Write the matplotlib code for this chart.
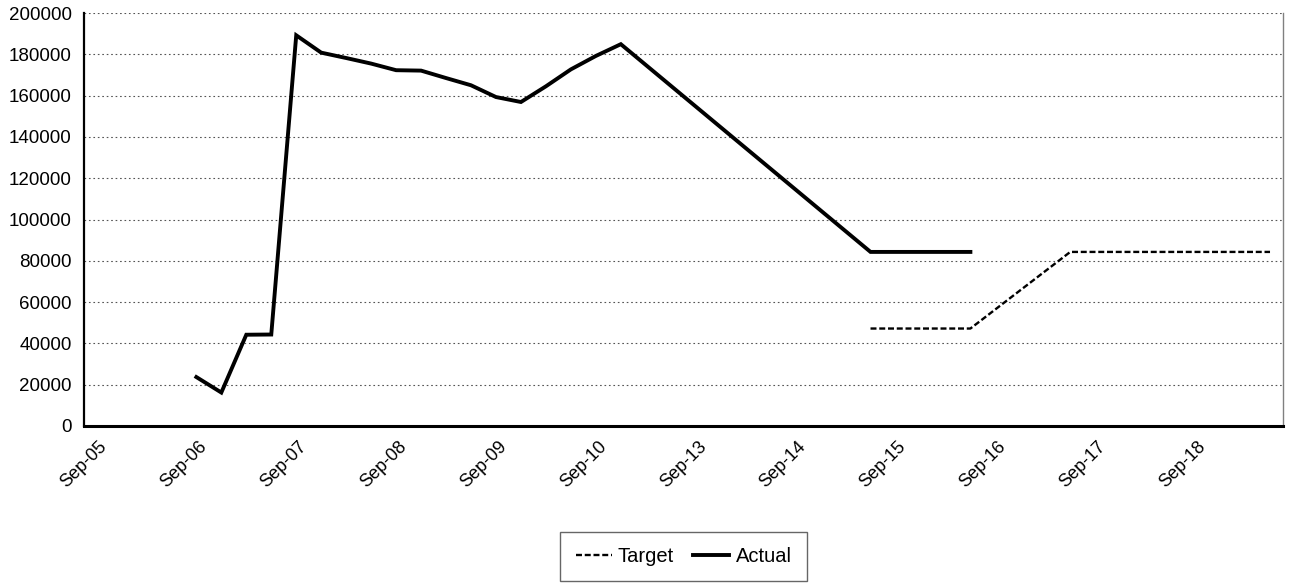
import matplotlib
matplotlib.use("Agg")
import matplotlib.pyplot as plt
import matplotlib.transforms as mtransforms

matplotlib.rcParams['font.family'] = ['Liberation Sans', 'DejaVu Sans']
matplotlib.rcParams['lines.scale_dashes'] = False

# quarterly category slots, one label every 4th slot
n_slots = 48
tick_pos = [0, 4, 8, 12, 16, 20, 24, 28, 32, 36, 40, 44]
tick_labels = ["Sep-05", "Sep-06", "Sep-07", "Sep-08", "Sep-09", "Sep-10",
               "Sep-13", "Sep-14", "Sep-15", "Sep-16", "Sep-17", "Sep-18"]

actual_idx = [4, 5, 6, 7, 8, 9, 10, 11, 12, 13, 14, 15, 16, 17, 18, 19, 20, 21,
              31, 32, 33, 34, 35]
actual_val = [23700, 16200, 44200, 44300, 189200, 180800, 178200, 175500,
              172300, 172100, 168500, 165000, 159300, 156900, 164500, 172700,
              179200, 184900, 84300, 84300, 84300, 84300, 84300]

target_idx = [31, 32, 33, 34, 35, 39, 40, 41, 42, 43, 44, 45, 46, 47]
target_val = [47200, 47200, 47200, 47200, 47200, 84300, 84300, 84300, 84300,
              84300, 84300, 84300, 84300, 84300]

fig = plt.figure(figsize=(12.91, 5.83), dpi=100)
ax = fig.add_axes([84 / 1291, 1 - 426 / 583, (1282.5 - 84) / 1291, (426 - 13) / 583])

ax.plot(target_idx, target_val, color='black', lw=1.7, dashes=(4.3, 2.0),
        label='Target')
ax.plot(actual_idx, actual_val, color='black', lw=2.8, solid_joinstyle='miter',
        label='Actual')

ax.set_xlim(-0.5, n_slots - 0.5)
ax.set_ylim(0, 200000)
ax.set_yticks(range(0, 200001, 20000))
ax.set_yticklabels([str(v) for v in range(0, 200001, 20000)], fontsize=13.5)

# x labels drawn by hand so they can sit a bit right/below the slot (Excel look)
ax.set_xticks(tick_pos)
ax.set_xticklabels([])
lab_trans = ax.get_xaxis_transform() + mtransforms.ScaledTranslation(
    8 / 100, -18 / 100, fig.dpi_scale_trans)
for p, t in zip(tick_pos, tick_labels):
    ax.text(p, 0, t, transform=lab_trans, fontsize=13, rotation=45,
            ha='right', va='center', rotation_mode='anchor', clip_on=False)

ax.tick_params(axis='both', length=0)
ax.tick_params(axis='y', pad=9)
ax.yaxis.grid(True, color='#555555', lw=0.8, dashes=(1.2, 2.0))
ax.set_axisbelow(True)

ax.spines['top'].set_visible(False)
ax.spines['right'].set_color('#808080')
ax.spines['right'].set_linewidth(1.0)
ax.spines['left'].set_linewidth(1.6)
ax.spines['bottom'].set_linewidth(2.2)

leg = fig.legend(loc='upper center', bbox_to_anchor=(683.5 / 1291, 1 - 532 / 583),
                 ncol=2, fontsize=14.5, frameon=True, fancybox=False,
                 handlelength=1.8, handletextpad=0.3, columnspacing=0.95,
                 borderpad=0.75, borderaxespad=0)
leg.get_frame().set_edgecolor('#404040')
leg.get_frame().set_linewidth(1.0)

fig.savefig("out.png", dpi=100)
